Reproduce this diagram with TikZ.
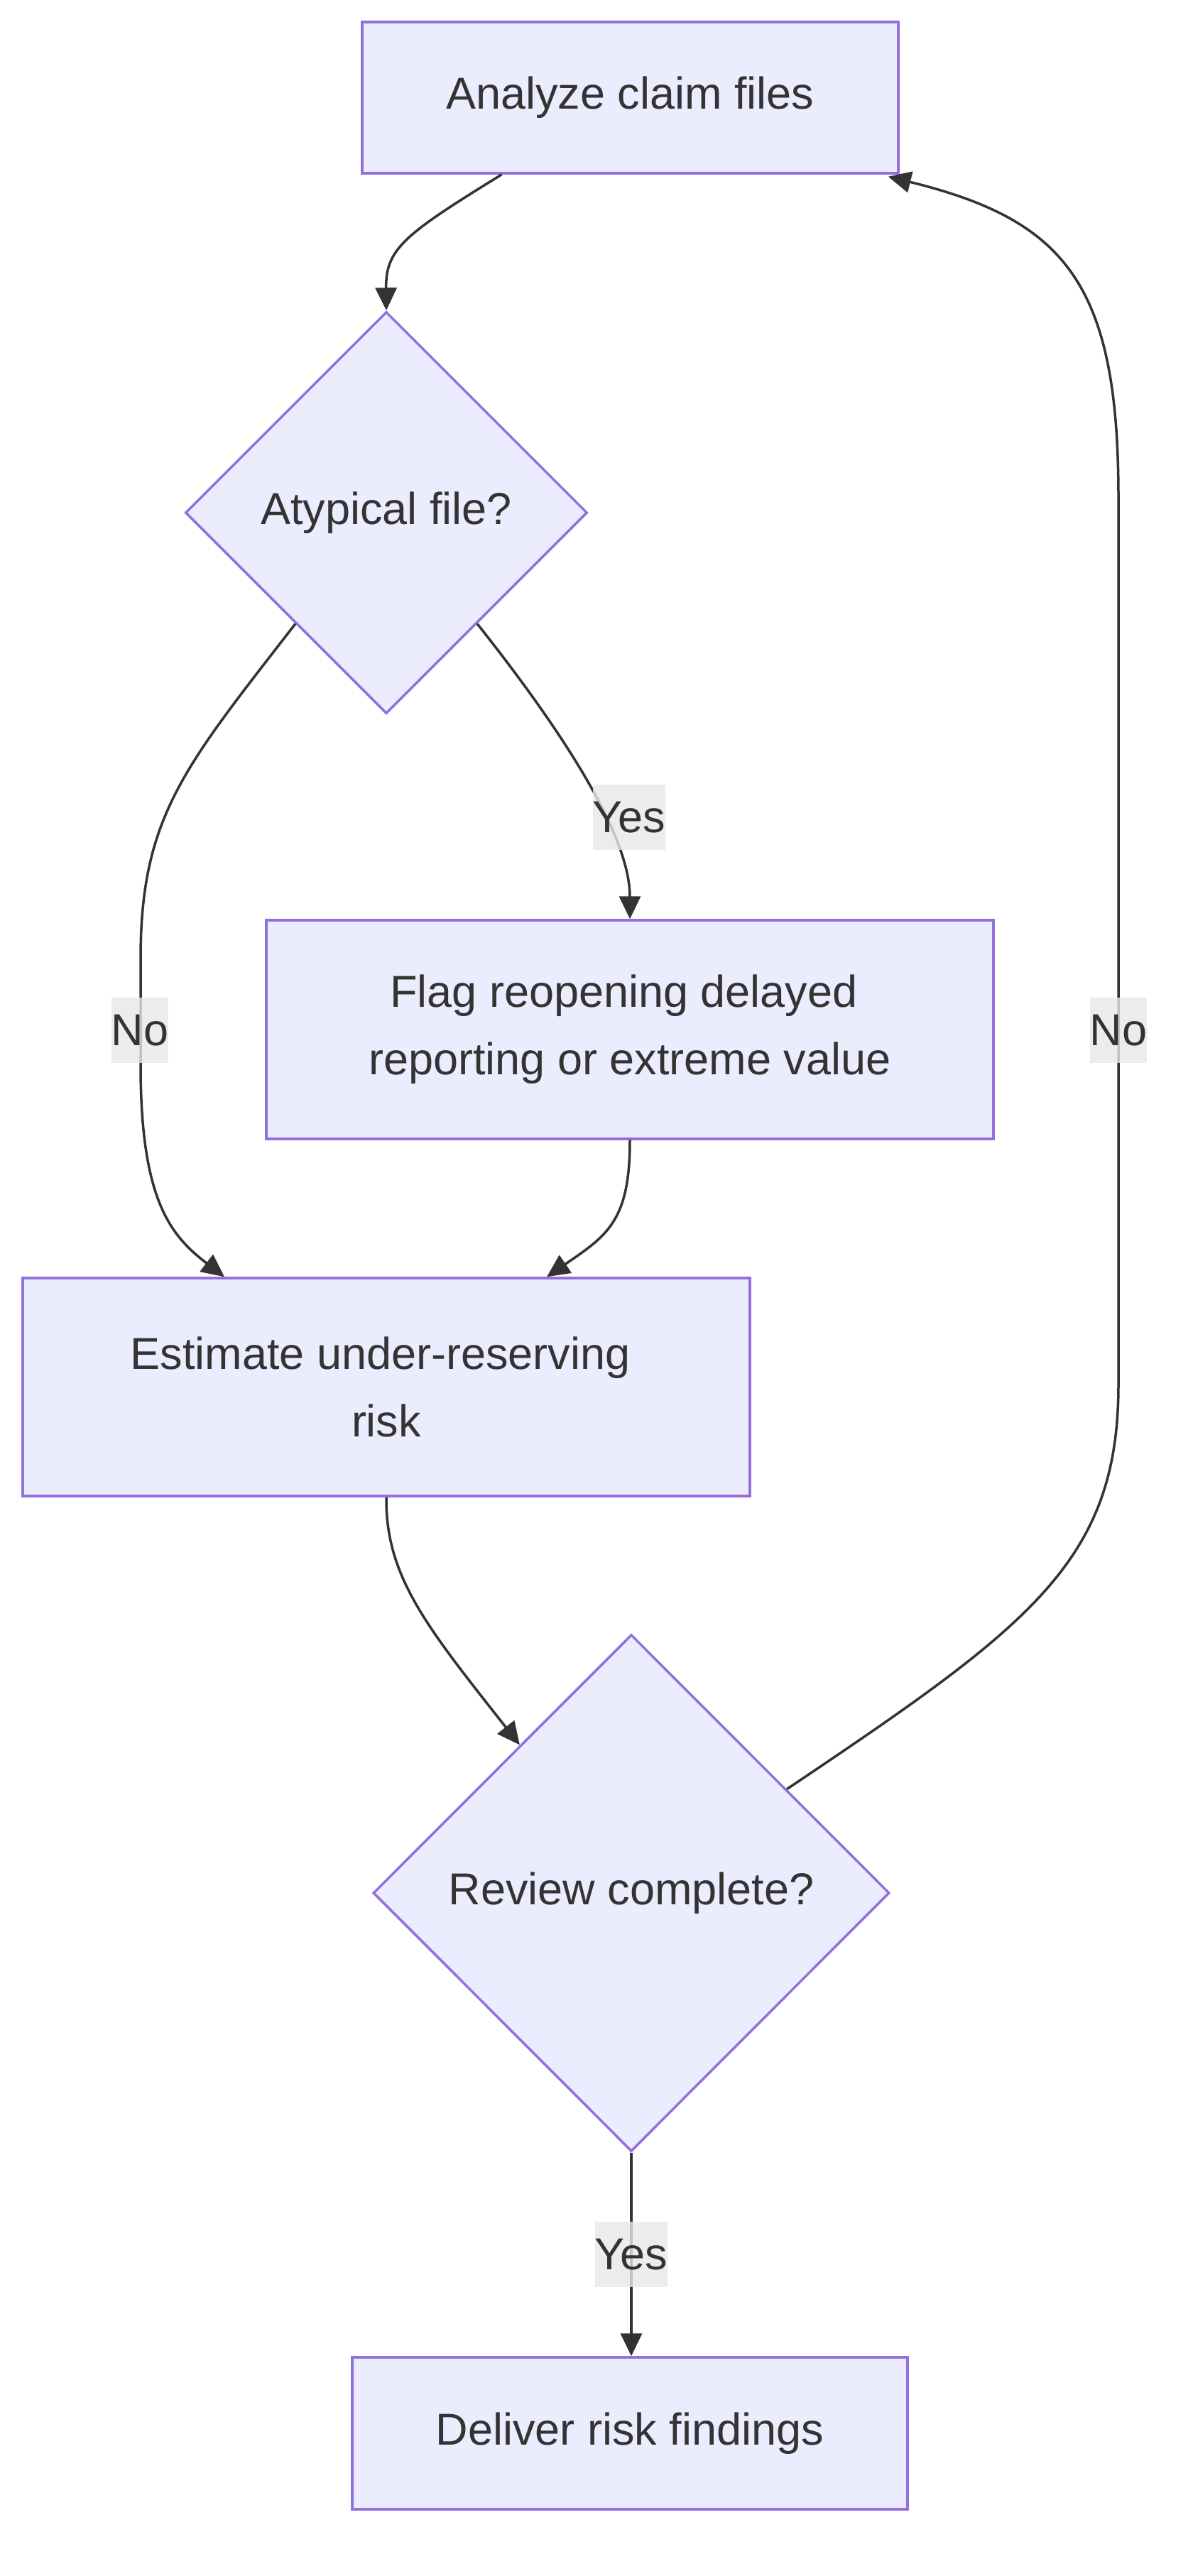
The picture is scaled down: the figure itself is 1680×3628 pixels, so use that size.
\documentclass[tikz,border=0pt]{standalone}
\usepackage{fontspec}
\setmainfont{Liberation Sans}
\usetikzlibrary{shapes.geometric,arrows.meta,calc}
\definecolor{nodefill}{HTML}{ECECFF}
\definecolor{nodeline}{HTML}{9370DB}
\definecolor{edgecol}{HTML}{333333}
\definecolor{labelbg}{HTML}{E8E8E8}
\begin{document}
\begin{tikzpicture}[x=1pt,y=-1pt,
 every node/.style={font=\fontsize{63}{95}\selectfont, text=edgecol},
 procbox/.style={draw=nodeline, fill=nodefill, line width=3.5pt, rectangle, inner sep=0pt, align=center},
 decide/.style={draw=nodeline, fill=nodefill, line width=3.5pt, diamond, inner sep=0pt, aspect=1, align=center},
 flow/.style={draw=edgecol, line width=3.5pt, -{Triangle[length=32pt,width=30pt]}},
 elabel/.style={fill=labelbg, fill opacity=0.8, text opacity=1, inner xsep=0pt, inner ysep=0pt, minimum height=92pt}]
\useasboundingbox (0,0) rectangle (1680,3628);
\fill[white] (0,0) rectangle (1680,3628);

\node[procbox, minimum width=755pt, minimum height=213pt] (A) at (887.5,137.5) {Analyze claim files};
\node[decide, minimum width=566pt, minimum height=566pt] (B) at (544,722) {Atypical file?};
\node[procbox, minimum width=1024pt, minimum height=308pt] (C) at (887,1450) {Flag reopening delayed\kern17pt\\reporting or extreme value};
\node[procbox, minimum width=1024pt, minimum height=307pt] (D) at (544,1953.5) {Estimate under-reserving\kern17pt\\risk};
\node[decide, minimum width=727pt, minimum height=728pt] (E) at (889,2666) {Review complete?};
\node[procbox, minimum width=782pt, minimum height=214pt] (F) at (887,3427) {Deliver risk findings};

% A -> B
\draw[flow] ([xshift=-181pt]A.south) .. controls (570,330) and (543,350) .. (B.north);
% B -> C (Yes)
\draw[flow] ($(B.east)!0.55!(B.south)$) .. controls (800,1040) and (887,1180) .. (C.north);
% B -> D (No)
\draw[flow] ($(B.west)!0.55!(B.south)$) .. controls (260,1080) and (198,1150) .. (198,1350) -- (198,1500) .. controls (198,1690) and (240,1740) .. ([xshift=-228pt]D.north);
% C -> D
\draw[flow] (C.south) .. controls (887,1720) and (855,1740) .. ([xshift=226pt]D.north);
% D -> E
\draw[flow] (D.south) .. controls (543,2220) and (600,2290) .. ($(E.north)!0.43!(E.west)$);
% E -> A (No)
\draw[flow] ($(E.north)!0.6!(E.east)$) .. controls (1450,2290) and (1575,2200) .. (1575,1950) -- (1575,700) .. controls (1575,400) and (1500,310) .. ([xshift=-16pt,yshift=-3pt]A.south east);
% E -> F (Yes)
\draw[flow] (E.south) -- (E.south |- F.north);

% edge labels
\node[elabel] (lyes1) at (886,1151) {Yes};
\node[elabel] (lno1) at (197,1451) {No};
\node[elabel] (lno2) at (1575,1451) {No};
\node[elabel] (lyes2) at (889,3175) {Yes};
\end{tikzpicture}
\end{document}
